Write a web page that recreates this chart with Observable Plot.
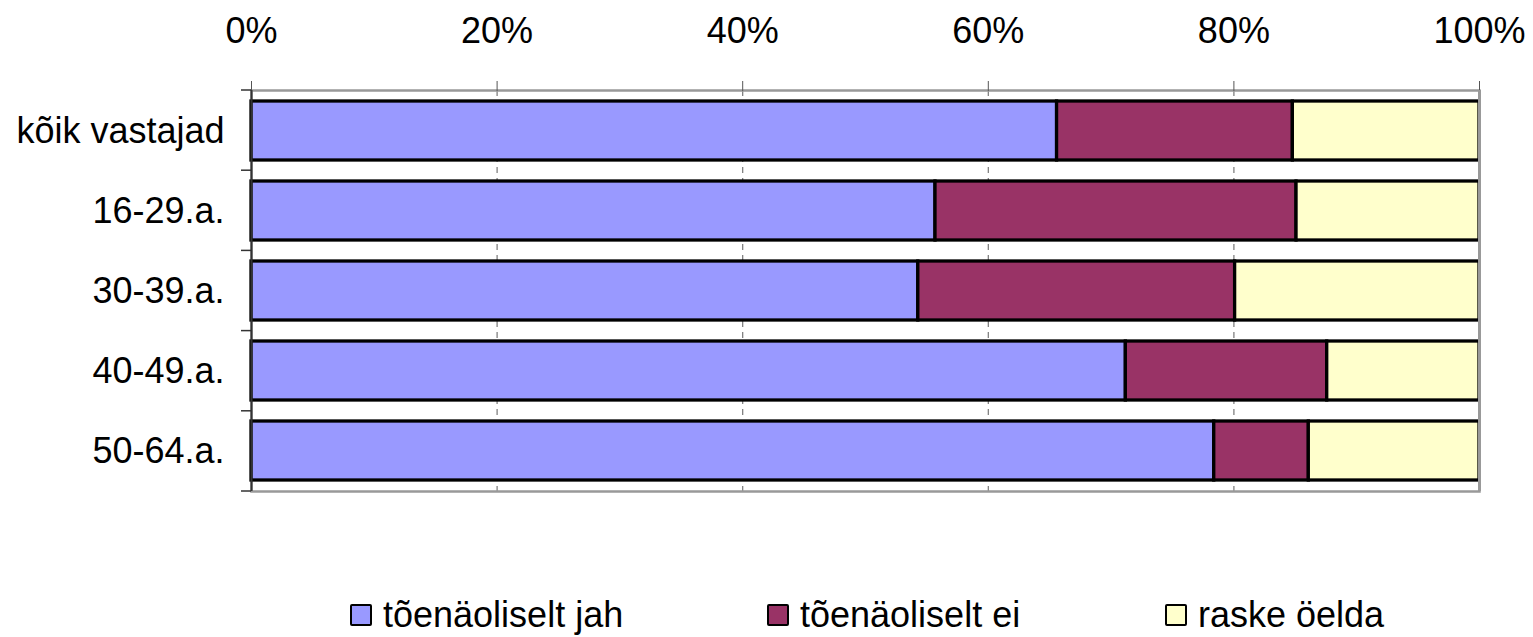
<!DOCTYPE html>
<html>
<head>
<meta charset="utf-8">
<script src="https://cdn.jsdelivr.net/npm/d3@7"></script>
<script src="https://cdn.jsdelivr.net/npm/@observablehq/plot@0.6"></script>
<style>
  html, body { margin: 0; padding: 0; background: #fff; }
  body { width: 1533px; height: 637px; position: relative; overflow: hidden; font-family: "Liberation Sans", Arial, sans-serif; }
  #chart { position: absolute; left: 0; top: 0; }
  #legend { position: absolute; left: 0; top: 593px; width: 1533px; height: 44px; font-size: 36px; color: #000; }
  .item { position: absolute; top: 0; display: flex; align-items: center; height: 44px; }
  .sw { width: 18px; height: 18px; border: 2.5px solid #000; border-radius: 2px; margin-right: 11px; box-sizing: content-box; }
</style>
</head>
<body>
<div id="chart"></div>
<div id="legend"></div>
<script>
const groups = ["kõik vastajad", "16-29.a.", "30-39.a.", "40-49.a.", "50-64.a."];
const seriesNames = ["tõenäoliselt jah", "tõenäoliselt ei", "raske öelda"];
const seriesColors = ["#9999FF", "#993366", "#FFFFCC"];
const jah = [65.6, 55.7, 54.3, 71.2, 78.4];
const ei = [19.2, 29.4, 25.8, 16.4, 7.7];
const raske = [15.2, 14.9, 19.9, 12.4, 13.9];
const xTicks = [0, 20, 40, 60, 80, 100];

const seriesValues = [jah, ei, raske];
const data = [];
groups.forEach((g, i) => {
  seriesNames.forEach((s, j) => data.push({group: g, series: s, value: seriesValues[j][i]}));
});

const W = 1533, H = 520;
const mL = 251, mR = 54, mT = 90, mB = 29;

const plot = Plot.plot({
  width: W,
  height: H,
  marginLeft: mL,
  marginRight: mR,
  marginTop: mT,
  marginBottom: mB,
  style: {fontFamily: '"Liberation Sans", Arial, sans-serif', fontSize: "36px", color: "#000", background: "#fff", overflow: "visible"},
  x: {domain: [0, 100], axis: null, label: null},
  y: {domain: groups, paddingInner: 0.26, paddingOuter: 0.13, axis: null, label: null},
  color: {domain: seriesNames, range: seriesColors},
  marks: [
    Plot.gridX(xTicks.slice(1, -1), {stroke: "#777", strokeOpacity: 1, strokeWidth: 1.2, strokeDasharray: "6,5"}),
    Plot.frame({stroke: "#999", strokeWidth: 2.5}),
    Plot.axisX({anchor: "top", ticks: xTicks, tickFormat: d => d + "%", tickSize: 10, tickPadding: 38, stroke: "#555", fontSize: 36, label: null}),
    Plot.axisY({anchor: "left", tickSize: 0, tickPadding: 27, fontSize: 36, label: null}),
    Plot.barX(data, Plot.stackX({x: "value", y: "group", fill: "series", stroke: "#000", strokeWidth: 3.3, order: seriesNames})),
    Plot.ruleX([0], {stroke: "#333", strokeWidth: 2}),
    Plot.ruleX([100], {stroke: "#999", strokeWidth: 3})
  ]
});

// boundary tick marks on the category axis, placed via the plot's band scale
const ys = plot.scale("y");
const yScale = d3.scaleBand().domain(ys.domain).range(ys.range).paddingInner(0.26).paddingOuter(0.13);
const svg = d3.select(plot);
const step = yScale.step();
const bounds = [];
groups.forEach(g => bounds.push(yScale(g) - step * 0.13));
bounds.push(yScale.range()[1]);
const gT = svg.append("g").attr("stroke", "#333").attr("stroke-width", 1.5);
bounds.forEach(b => gT.append("line").attr("x1", mL - 10).attr("x2", mL).attr("y1", b).attr("y2", b));

document.getElementById("chart").appendChild(plot);

const legend = document.getElementById("legend");
const legendX = [350, 767, 1165];
seriesNames.forEach((s, i) => {
  const it = document.createElement("div");
  it.className = "item";
  it.style.left = legendX[i] + "px";
  it.innerHTML = `<span class="sw" style="background:${seriesColors[i]}"></span><span>${s}</span>`;
  legend.appendChild(it);
});
</script>
</body>
</html>
